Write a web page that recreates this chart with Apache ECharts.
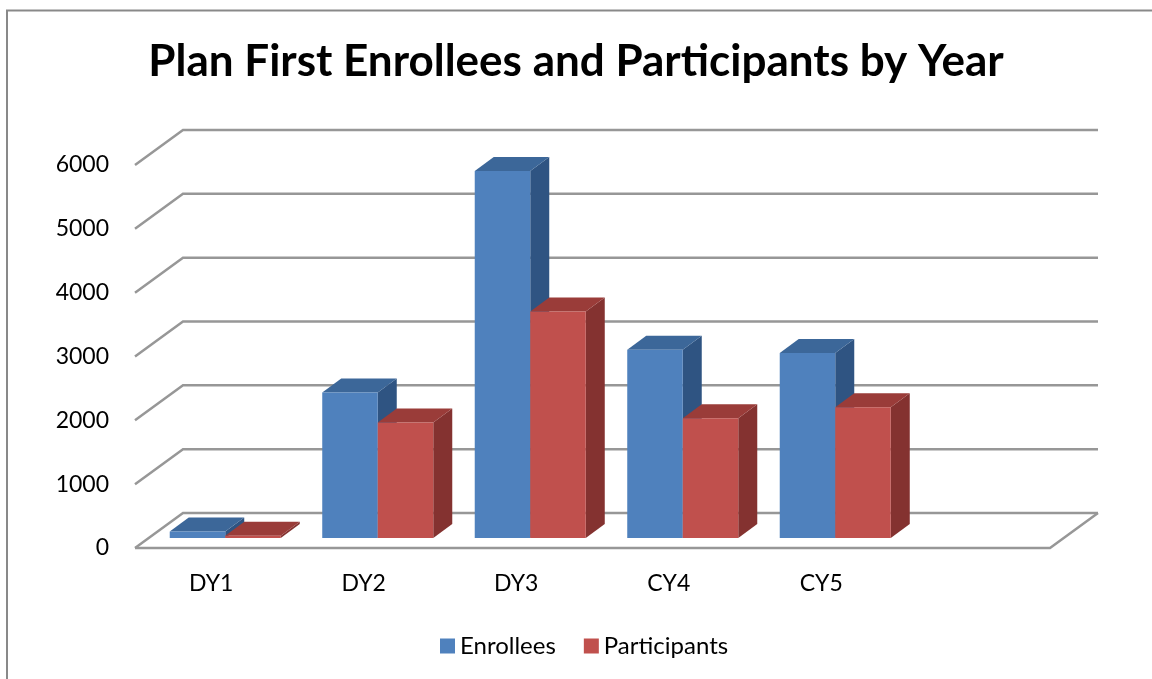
<!DOCTYPE html>
<html>
<head>
<meta charset="utf-8">
<script src="https://cdn.jsdelivr.net/npm/echarts@6/dist/echarts.min.js"></script>
<style>
html,body{margin:0;padding:0;background:#fff;}
#chart{width:1152px;height:679px;}
</style>
</head>
<body>
<div id="chart"></div>
<script>
// ---- data ----
const categories = ['DY1', 'DY2', 'DY3', 'CY4', 'CY5', ''];
const enrollees = [100, 2280, 5750, 2950, 2900, null];
const participants = [35, 1810, 3550, 1875, 2050, null];
const yTicks = [0, 1000, 2000, 3000, 4000, 5000, 6000];
const seriesNames = ['Enrollees', 'Participants'];

// ---- styling / 3D geometry ----
const WALL_DX = 48, WALL_DY = -35;     // full depth offset of the back wall
const FRONT_DX = 14, FRONT_DY = -10;   // depth of bar front face
const BAR_DX = 19, BAR_DY = -14;       // bar depth
const BAR_RATIO = 0.364;               // bar width / category width
const FONT = 'Lato, "Open Sans", sans-serif';
const palette = [
  {front: '#4F81BD', top: '#3C6799', side: '#2F5482'},
  {front: '#C0504D', top: '#9A3C39', side: '#843230'}
];

function barRender(idx) {
  const c = palette[idx];
  return function (params, api) {
    const v = api.value(1);
    if (v == null || isNaN(v)) return;
    const cat = api.value(0);
    const base = api.coord([cat, 0]);
    const top = api.coord([cat, v]);
    const bw = api.size([1, 0])[0] * BAR_RATIO;
    const cx = base[0] + FRONT_DX;
    const x0 = cx - bw + idx * bw, x1 = x0 + bw;
    const yt = top[1] + FRONT_DY, yb = base[1] + FRONT_DY;
    return {
      type: 'group',
      children: [
        {type: 'polygon', shape: {points: [[x1, yt], [x1 + BAR_DX, yt + BAR_DY], [x1 + BAR_DX, yb + BAR_DY], [x1, yb]]}, style: {fill: c.side}},
        {type: 'polygon', shape: {points: [[x0, yt], [x1, yt], [x1 + BAR_DX, yt + BAR_DY], [x0 + BAR_DX, yt + BAR_DY]]}, style: {fill: c.top}},
        {type: 'rect', shape: {x: x0, y: yt, width: bw, height: yb - yt}, style: {fill: c.front}}
      ]
    };
  };
}

function wallRender(params, api) {
  const v = api.value(0);
  const cs = params.coordSys;
  const left = cs.x, right = cs.x + cs.width;
  const y = api.coord([0, v])[1];
  const st = {stroke: '#979797', lineWidth: 2.5, fill: null};
  const kids = [
    {type: 'polyline', shape: {points: [[left, y], [left + WALL_DX, y + WALL_DY], [right + WALL_DX, y + WALL_DY]]}, style: st}
  ];
  if (v === 0) {
    kids.push({type: 'polyline', shape: {points: [[left, y], [right, y], [right + WALL_DX, y + WALL_DY]]}, style: st});
  }
  return {type: 'group', children: kids};
}

const chart = echarts.init(document.getElementById('chart'), null, {renderer: 'canvas'});
chart.setOption({
  animation: false,
  backgroundColor: '#ffffff',
  title: {
    text: 'Plan First Enrollees and Participants by Year',
    left: 'center',
    top: 35,
    textStyle: {fontFamily: FONT, fontWeight: 'bold', fontSize: 44, color: '#000'}
  },
  graphic: [{
    type: 'rect', shape: {x: 7, y: 10.5, width: 1200, height: 700},
    style: {fill: null, stroke: '#898989', lineWidth: 2}, silent: true, z: 0
  }],
  legend: {
    data: seriesNames,
    left: 435,
    top: 629,
    icon: 'rect',
    itemWidth: 15,
    itemHeight: 15,
    itemGap: 28,
    textStyle: {fontFamily: FONT, fontSize: 24, color: '#000'}
  },
  grid: {left: 135, right: 102, top: 165, bottom: 131, containLabel: false},
  xAxis: {
    type: 'category',
    data: categories,
    axisLine: {show: false},
    axisTick: {show: false},
    splitLine: {show: false},
    axisLabel: {fontFamily: FONT, fontSize: 23, color: '#000', margin: 24}
  },
  yAxis: {
    type: 'value',
    min: 0, max: 6000, interval: 1000,
    axisLine: {show: false},
    axisTick: {show: false},
    splitLine: {show: false},
    axisLabel: {fontFamily: FONT, fontSize: 23, color: '#000', margin: 26, formatter: v => String(v)}
  },
  series: [
    {
      type: 'custom', name: '_walls', z: 1, silent: true,
      data: yTicks.map(v => [v]),
      encode: {y: 0},
      renderItem: wallRender
    },
    {
      type: 'custom', name: seriesNames[0], z: 2,
      itemStyle: {color: palette[0].front},
      data: enrollees.map((v, i) => [i, v]),
      encode: {x: 0, y: 1},
      renderItem: barRender(0)
    },
    {
      type: 'custom', name: seriesNames[1], z: 3,
      itemStyle: {color: palette[1].front},
      data: participants.map((v, i) => [i, v]),
      encode: {x: 0, y: 1},
      renderItem: barRender(1)
    }
  ]
});
</script>
</body>
</html>
